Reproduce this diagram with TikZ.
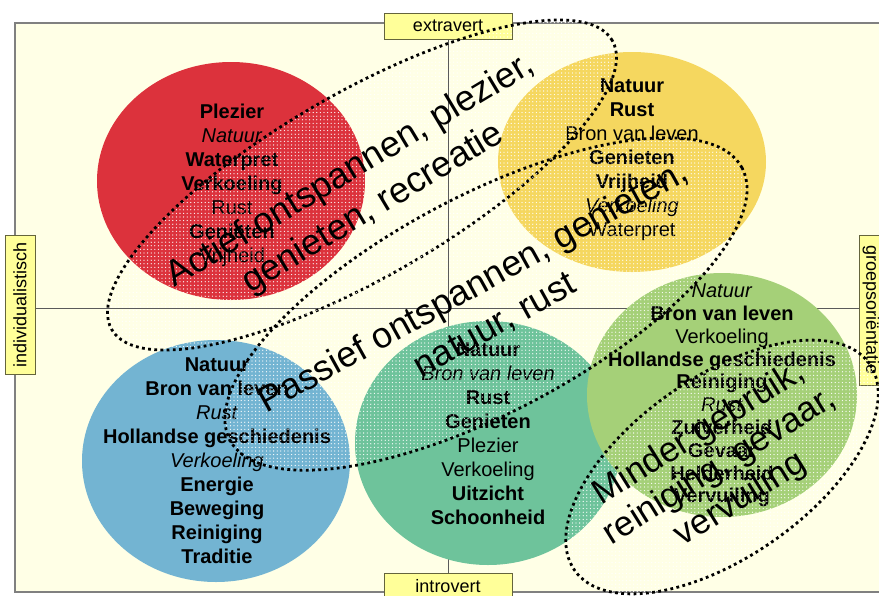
\documentclass[tikz,border=0pt]{standalone}
\usepackage{fontspec}
\setmainfont{Liberation Sans}
\usetikzlibrary{shapes.geometric,patterns}
\definecolor{bgyellow}{RGB}{255,255,230}
\definecolor{framegray}{RGB}{128,128,128}
\definecolor{axisgray}{RGB}{90,90,90}
\definecolor{labelfill}{RGB}{255,255,153}
\definecolor{labelborder}{RGB}{100,100,60}
\definecolor{redblob}{RGB}{220,50,60}
\definecolor{yellowblob}{RGB}{245,215,95}
\definecolor{blueblob}{RGB}{115,180,210}
\definecolor{tealblob}{RGB}{110,195,155}
\definecolor{greenblob}{RGB}{165,208,120}
\pgfdeclarepatternformonly{whitedots}{\pgfpoint{-1pt}{-1pt}}{\pgfpoint{1pt}{1pt}}{\pgfpoint{3.6pt}{3.6pt}}{\pgfpathcircle{\pgfpointorigin}{0.65pt}\pgfusepath{fill}}

\begin{document}
\begin{tikzpicture}[x=1pt,y=-1pt,
	blob/.style={ellipse,inner sep=0pt,minimum width=268pt,minimum height=238pt},
	blobtext/.style={align=center,inner sep=0pt,font=\fontsize{20}{24}\selectfont},
	zone/.style={ellipse,inner sep=0pt,pattern=whitedots,pattern color=white,draw=black,line width=2.8pt,dash pattern=on 2.8pt off 3.4pt},
	zonetext/.style={align=center,inner sep=0pt,font=\fontsize{36}{44}\selectfont},
	axislabel/.style={draw=labelborder,fill=labelfill,line width=0.8pt,inner sep=0pt,minimum width=128pt,minimum height=26pt,font=\fontsize{18}{18}\selectfont}]
	\useasboundingbox (0,0) rectangle (879,595);
	\clip (0,0) rectangle (879,595);
		\fill[bgyellow,draw=framegray,line width=1.5pt] (15,23) rectangle (895,592);
		\coordinate (N) at (448,23);
		\coordinate (S) at (448,592);
		\coordinate (W) at (15,308);
		\coordinate (E) at (895,308);
		\draw[axisgray,line width=1pt] (N) -- (S);
		\draw[axisgray,line width=1pt] (W) -- (E);
		\node[blob,fill=redblob] (red) at (231,181) {};
		\node[blob,fill=yellowblob,minimum height=220pt] (yellow) at (632,162) {};
		\node[blob,fill=blueblob,minimum height=242pt] (blue) at (216,461) {};
		\node[blob,fill=tealblob,minimum width=266pt,minimum height=244pt] (teal) at (488,443) {};
		\node[blob,fill=greenblob,minimum width=270pt,minimum height=244pt] (green) at (722,395) {};
		\node[blobtext] at (232,185) {\textbf{Plezier}\\\textit{Natuur}\\\textbf{Waterpret}\\\textbf{Verkoeling}\\Rust\\\textbf{Genieten}\\Vrijheid};
		\node[blobtext] at (632,160) {\textbf{Natuur}\\\textbf{Rust}\\Bron van leven\\\textbf{Genieten}\\\textbf{Vrijheid}\\\textit{Verkoeling}\\Waterpret};
		\node[blobtext] at (217,461) {\textbf{Natuur}\\\textbf{Bron van leven}\\\textit{Rust}\\\textbf{Hollandse geschiedenis}\\\textit{Verkoeling}\\\textbf{Energie}\\\textbf{Beweging}\\\textbf{Reiniging}\\\textbf{Traditie}};
		\node[blobtext] at (488,434) {\textbf{Natuur}\\\textit{Bron van leven}\\\textbf{Rust}\\\textbf{Genieten}\\Plezier\\Verkoeling\\\textbf{Uitzicht}\\\textbf{Schoonheid}};
		\node[blobtext,font=\fontsize{20}{22.8}\selectfont] at (722,395.5) {\textit{Natuur}\\\textbf{Bron van leven}\\Verkoeling\\\textbf{Hollandse geschiedenis}\\\textbf{Reiniging}\\\textit{Rust}\\\textbf{Zuiverheid}\\\textbf{Gevaar}\\\textbf{Helderheid}\\\textbf{Vervuiling}};
		\node[axislabel] (extra) at (448,26) {extravert};
		\node[axislabel] (intro) at (448,586) {introvert};
		\node[axislabel,rotate=90,minimum width=139pt,minimum height=30pt] (indiv) at (20,304.5) {individualistisch};
		\node[axislabel,rotate=-90,minimum width=150pt,minimum height=24pt] (groep) at (871,310) {groepsoriëntatie};
		\node[zone,rotate=30,minimum width=578pt,minimum height=184pt] (active) at (362,185) {};
		\node[zone,rotate=28,minimum width=580pt,minimum height=216pt] (passive) at (486,304) {};
		\node[zone,rotate=35,minimum width=360pt,minimum height=180pt] (lessuse) at (722,467) {};
		\node[zonetext,rotate=31] at (362,190) {Actief ontspannen, plezier,\\genieten, recreatie};
		\node[zonetext,rotate=29] at (484,306) {Passief ontspannen, genieten,\\natuur, rust};
		\node[zonetext,rotate=32,font=\fontsize{35}{39}\selectfont] at (720,467) {Minder gebruik,\\reiniging, gevaar,\\vervuiling};
\end{tikzpicture}
\end{document}
